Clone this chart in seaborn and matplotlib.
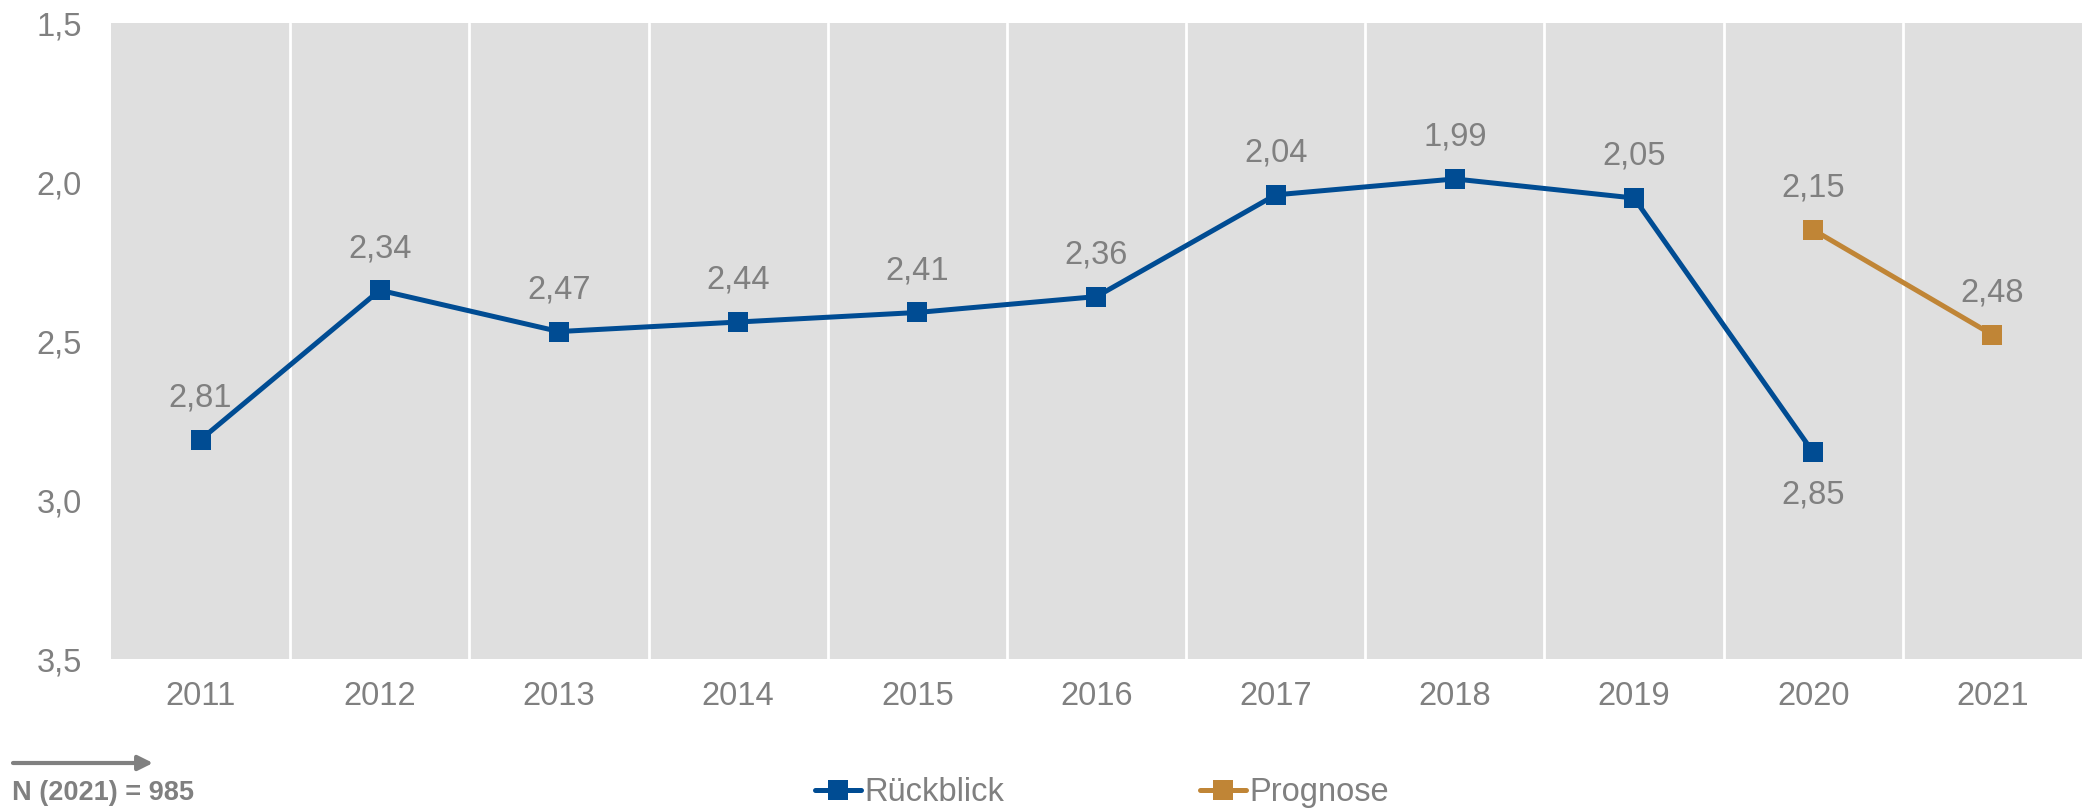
import pandas as pd
import numpy as np
import matplotlib.pyplot as plt
import seaborn as sns

# values
years_back = [2011, 2012, 2013, 2014, 2015, 2016, 2017, 2018, 2019, 2020]
rueckblick = [2.81, 2.34, 2.47, 2.44, 2.41, 2.36, 2.04, 1.99, 2.05, 2.85]
years_prog = [2020, 2021]
prognose = [2.15, 2.48]
all_years = list(range(2011, 2022))
y_ticks = [1.5, 2.0, 2.5, 3.0, 3.5]

BLUE = '#004C93'
GOLD = '#C08536'
GREY = '#808080'
FS = 23.5

sns.set_theme(style='white')
plt.rcParams['font.family'] = ['Liberation Sans', 'DejaVu Sans']

df = pd.concat([
    pd.DataFrame({'Jahr': years_back, 'Wert': rueckblick, 'Serie': 'Rückblick'}),
    pd.DataFrame({'Jahr': years_prog, 'Wert': prognose, 'Serie': 'Prognose'}),
])

fig = plt.figure(figsize=(20.83, 8.10), dpi=100)
ax = fig.add_axes([0.0533, 0.1864, 0.9462, 0.785])
ax.set_facecolor('#DFDFDF')

sns.lineplot(data=df, x='Jahr', y='Wert', hue='Serie', palette=[BLUE, GOLD],
             marker='s', markersize=14, markeredgewidth=0, linewidth=3.6,
             ax=ax, legend=True)

# data labels
for x, v in zip(years_back, rueckblick):
    below = x == 2020
    ax.annotate(f'{v:.2f}'.replace('.', ','), (x, v),
                xytext=(0, -31 if below else 30), textcoords='offset points',
                ha='center', va='center', fontsize=FS, color=GREY)
for x, v in zip(years_prog, prognose):
    ax.annotate(f'{v:.2f}'.replace('.', ','), (x, v),
                xytext=(0, 30), textcoords='offset points',
                ha='center', va='center', fontsize=FS, color=GREY)

ax.set_xlim(2010.5, 2021.5)
ax.set_ylim(3.5, 1.5)
ax.set_xticks(all_years)
ax.set_xticklabels([str(y) for y in all_years])
ax.set_xticks([y + 0.5 for y in all_years[:-1]], minor=True)
ax.set_yticks(y_ticks)
ax.set_yticklabels([f'{t:.1f}'.replace('.', ',') for t in y_ticks])
ax.grid(False)
ax.grid(True, which='minor', axis='x', color='white', linewidth=2)
ax.tick_params(axis='both', which='both', length=0, labelsize=FS, labelcolor=GREY)
ax.tick_params(axis='x', pad=16)
ax.tick_params(axis='y', pad=21)
ax.set_xlabel('')
ax.set_ylabel('')
for s in ax.spines.values():
    s.set_visible(False)

# legend at the bottom
handles, labels = ax.get_legend_handles_labels()
ax.get_legend().remove()
fig.legend(handles, labels, loc='center', bbox_to_anchor=(0.529, 0.021), ncol=2,
           frameon=False, fontsize=FS, labelcolor=GREY, handlelength=1.4,
           handletextpad=0.1, columnspacing=6)

# sample note with arrow
ax.annotate('', xy=(153 / 2083, 1 - 763 / 810), xytext=(13 / 2083, 1 - 763 / 810),
            xycoords='figure fraction', textcoords='figure fraction',
            annotation_clip=False,
            arrowprops=dict(arrowstyle='-|>', color=GREY, lw=3, mutation_scale=22,
                            shrinkA=0, shrinkB=0))
fig.text(0.006, 0.021, 'N (2021) = 985', fontsize=19.5, fontweight='bold', color=GREY,
         ha='left', va='center')
fig.savefig('out.png', dpi=100)
